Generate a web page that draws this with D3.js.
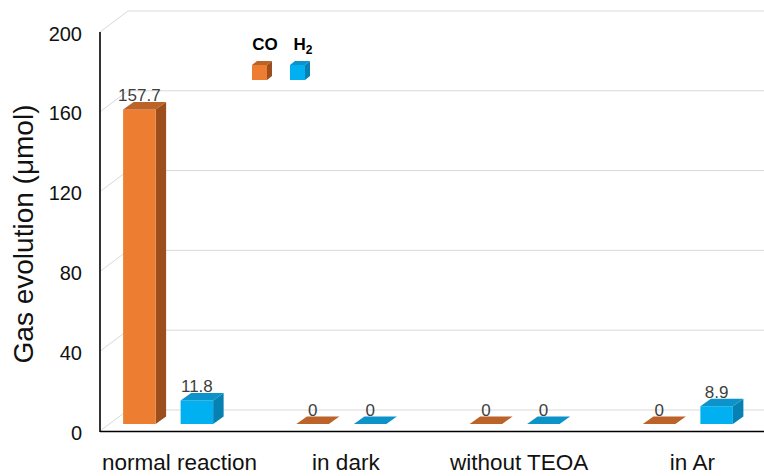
<!DOCTYPE html>
<html>
<head>
<meta charset="utf-8">
<script src="https://cdn.jsdelivr.net/npm/d3@7"></script>
<style>
  html, body { margin: 0; padding: 0; background: #fff; }
  svg { display: block; font-family: "Liberation Sans", Arial, sans-serif; }
</style>
</head>
<body>
<svg id="chart" width="764" height="476"></svg>
<script>
// Gas evolution under different reaction conditions
const categories = ["normal reaction", "in dark", "without TEOA", "in Ar"];
const seriesNames = ["CO", "H2"];
const coValues = [157.7, 0, 0, 0];
const h2Values = [11.8, 0, 0, 8.9];
const yTicks = [0, 40, 80, 120, 160, 200];

const palette = {
  CO: { front: "#ED7D31", top: "#bb6328", side: "#9c4f1d" },
  H2: { front: "#00B0F0", top: "#0c93c9", side: "#0781b2" }
};

const svg = d3.select("#chart");
const W = 764;

// 3D frame: front plane axis, back wall offset
const axisX = 100;
const wallDx = 28, wallDy = -21;
const barDx = 10.5, barDy = -7.5;
const barBaseShift = -7;

const y = d3.scaleLinear().domain([0, 200]).range([431, 32]);
const x = d3.scaleBand().domain(categories).range([86, 779]);
const sub = d3.scaleBand().domain(seriesNames).range([-49.5, 40.5]).paddingInner(0.435);

// Gridlines on back wall and side wall
const grid = svg.append("g").attr("stroke", "#d9d9d9").attr("stroke-width", 1).attr("fill", "none");
yTicks.forEach(t => {
  const yy = y(t);
  grid.append("line")
    .attr("x1", axisX + wallDx).attr("x2", W)
    .attr("y1", yy + wallDy).attr("y2", yy + wallDy);
  grid.append("line")
    .attr("x1", axisX).attr("y1", yy)
    .attr("x2", axisX + wallDx).attr("y2", yy + wallDy);
});

// Y axis ticks
const yAxis = svg.append("g")
  .attr("transform", `translate(${axisX},0)`)
  .call(d3.axisLeft(y).tickValues(yTicks).tickSize(0).tickPadding(18));
yAxis.select(".domain").remove();
yAxis.selectAll("text")
  .attr("font-family", "Liberation Sans, Arial, sans-serif")
  .attr("font-size", 20)
  .attr("fill", "#111")
  .attr("dy", "0.4em");

// X axis labels
const xAxis = svg.append("g")
  .attr("transform", `translate(0,${y(0)})`)
  .call(d3.axisBottom(x).tickSize(0).tickPadding(23));
xAxis.select(".domain").remove();
xAxis.selectAll("text")
  .attr("font-family", "Liberation Sans, Arial, sans-serif")
  .attr("font-size", 22.5)
  .attr("fill", "#111");
// keep labels from crossing the left axis
xAxis.selectAll(".tick").each(function () {
  const tick = d3.select(this);
  const t = tick.select("text");
  const w = t.node().getComputedTextLength();
  const m = /translate\(([-\d.]+)/.exec(tick.attr("transform"));
  const cx = +m[1];
  const minLeft = axisX + 2;
  if (cx - w / 2 < minLeft) t.attr("x", minLeft - (cx - w / 2));
});

// Bars
const rows = [];
categories.forEach((c, i) => {
  rows.push({ cat: c, s: "CO", v: coValues[i] });
  rows.push({ cat: c, s: "H2", v: h2Values[i] });
});

const bars = svg.append("g");
rows.forEach(d => {
  const x0 = x(d.cat) + x.bandwidth() / 2 + sub(d.s);
  const w = sub.bandwidth();
  const yb = y(0) + barBaseShift;
  const yt = y(d.v) + barBaseShift;
  const col = palette[d.s];
  const g = bars.append("g");
  if (yb - yt > 0) {
    g.append("polygon")
      .attr("points", [[x0 + w, yt], [x0 + w + barDx, yt + barDy], [x0 + w + barDx, yb + barDy], [x0 + w, yb]].join(" "))
      .attr("fill", col.side);
    g.append("rect")
      .attr("x", x0).attr("y", yt).attr("width", w).attr("height", yb - yt)
      .attr("fill", col.front);
  }
  g.append("polygon")
    .attr("points", [[x0, yt], [x0 + w, yt], [x0 + w + barDx, yt + barDy], [x0 + barDx, yt + barDy]].join(" "))
    .attr("fill", col.top);
  g.append("text")
    .attr("x", x0 + w / 2)
    .attr("y", yt - 8.5)
    .attr("text-anchor", "middle")
    .attr("font-size", 17)
    .attr("fill", "#404040")
    .text(String(d.v));
});

// Axis lines
svg.append("line")
  .attr("x1", axisX).attr("x2", W)
  .attr("y1", y(0) + 0.5).attr("y2", y(0) + 0.5)
  .attr("stroke", "#000").attr("stroke-width", 1.6);
svg.append("line")
  .attr("x1", axisX).attr("x2", axisX)
  .attr("y1", y(200)).attr("y2", y(0) + 1)
  .attr("stroke", "#000").attr("stroke-width", 1.6);

// Y axis title
svg.append("text")
  .attr("transform", "translate(33,234) rotate(-90)")
  .attr("text-anchor", "middle")
  .attr("font-size", 28)
  .attr("fill", "#111")
  .text("Gas evolution (μmol)");

// Legend
const legend = svg.append("g");
const legendItems = [
  { s: "CO", tx: 265, cx: 252 },
  { s: "H2", tx: 303, cx: 290 }
];
legendItems.forEach(it => {
  const col = palette[it.s];
  const t = legend.append("text")
    .attr("x", it.tx).attr("y", 50)
    .attr("text-anchor", "middle")
    .attr("font-size", 17)
    .attr("font-weight", "bold")
    .attr("fill", "#000");
  if (it.s === "H2") {
    t.append("tspan").text("H");
    t.append("tspan").attr("font-size", 12).attr("dy", 4).text("2");
  } else {
    t.text(it.s);
  }
  const s = 15, dx = 5, dy = -4, x0 = it.cx, y0 = 65;
  legend.append("polygon")
    .attr("points", [[x0 + s, y0], [x0 + s + dx, y0 + dy], [x0 + s + dx, y0 + s + dy], [x0 + s, y0 + s]].join(" "))
    .attr("fill", col.side);
  legend.append("polygon")
    .attr("points", [[x0, y0], [x0 + s, y0], [x0 + s + dx, y0 + dy], [x0 + dx, y0 + dy]].join(" "))
    .attr("fill", col.top);
  legend.append("rect")
    .attr("x", x0).attr("y", y0).attr("width", s).attr("height", s)
    .attr("fill", col.front);
});
</script>
</body>
</html>
